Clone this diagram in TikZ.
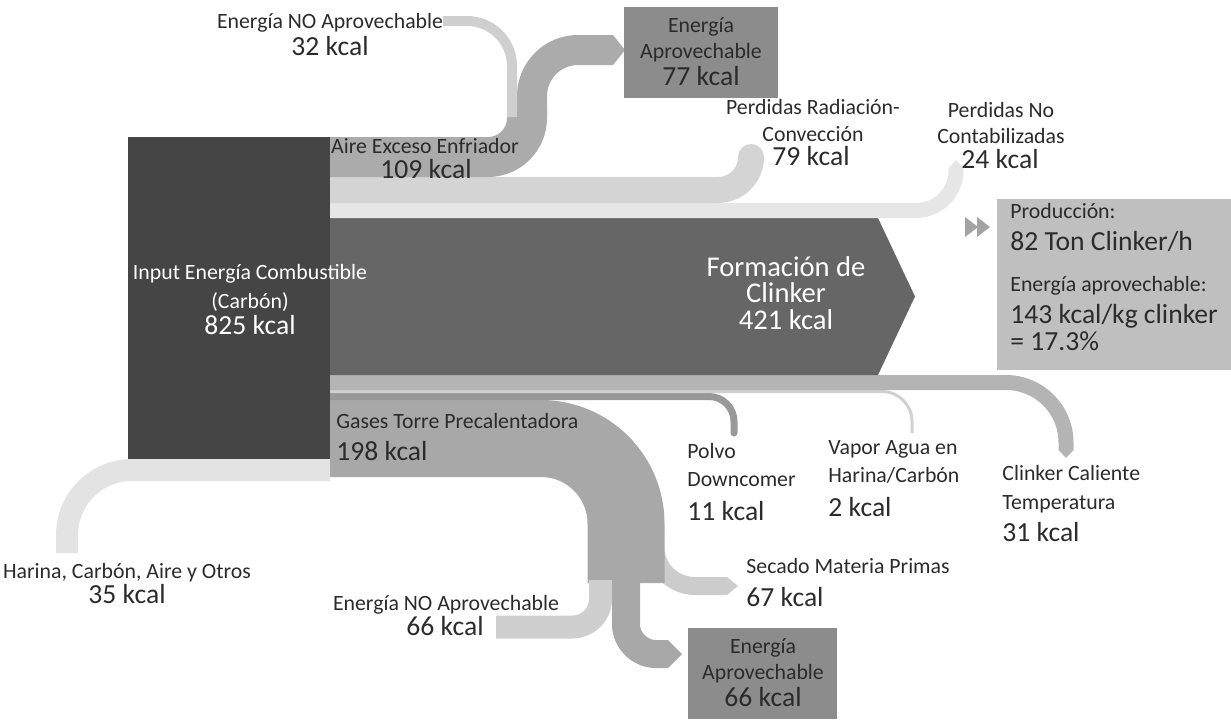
\documentclass[tikz,border=0pt]{standalone}
\usepackage{fontspec}
\setmainfont{Carlito}
\usetikzlibrary{positioning}
\definecolor{txt}{HTML}{2B2B2B}
\definecolor{inbox}{HTML}{454545}
\definecolor{form}{HTML}{666666}
\definecolor{aire}{HTML}{ABABAB}
\definecolor{noaprov}{HTML}{CFCFCF}
\definecolor{aprov}{HTML}{8C8C8C}
\definecolor{radconv}{HTML}{D4D4D4}
\definecolor{nocont}{HTML}{E6E6E6}
\definecolor{prod}{HTML}{BFBFBF}
\definecolor{caliente}{HTML}{B4B4B4}
\definecolor{vapor}{HTML}{D0D0D0}
\definecolor{polvo}{HTML}{999999}
\definecolor{gases}{HTML}{A8A8A8}
\definecolor{secado}{HTML}{CCCCCC}
\definecolor{harina}{HTML}{E3E3E3}
\definecolor{ffw}{HTML}{A3A3A3}
\begin{document}
\begin{tikzpicture}[x=0.5pt,y=-0.5pt,
  lbl/.style={inner sep=0pt, anchor=mid, yshift=-0.5pt, text=txt, font=\fontsize{10.9}{13}\selectfont},
  val/.style={lbl, yshift=-1pt, font=\fontsize{13.8}{16}\selectfont},
  big/.style={lbl, yshift=-1.5pt, text=white, font=\fontsize{14.3}{17}\selectfont},
  box/.style={fill=aprov, inner sep=0pt, minimum width=#1, minimum height=45.5pt},
  band/.style={line cap=butt, line join=round}]
\useasboundingbox (0,0) rectangle (1231,719);
% bands, back to front
\draw[band, harina, line width=11pt, rounded corners=32.5pt] (330,470) -- (67,470) -- (67,553);
\draw[band, secado, line width=9pt, rounded corners=20pt] (655,540) -- (655,586) -- (727,586);
\fill[secado] (727,577) -- (738,586) -- (727,595) -- cycle;
\draw[band, gases, line width=38.5pt, rounded corners=42.5pt] (330,438.5) -- (626,438.5) -- (626,583);
\draw[band, noaprov, line width=11.5pt, rounded corners=14pt] (600.5,580) -- (600.5,627) -- (496,627);
\draw[band, gases, line width=14pt, rounded corners=15pt] (626,580) -- (626,654) -- (668,654);
\fill[gases] (668,640) -- (682,654) -- (668,668) -- cycle;
\draw[band, polvo, line width=3.5pt, rounded corners=12.5pt, line cap=round] (320,396.5) -- (734,396.5) -- (734,433);
\draw[band, vapor, line width=1.5pt, rounded corners=15pt] (330,391.5) -- (912,391.5) -- (912,433);
\draw[band, caliente, line width=7.5pt, rounded corners=30pt] (330,382.5) -- (1066,382.5) -- (1066,450);
\fill[caliente] (1058.5,450) -- (1073.5,450) -- (1066,458) -- cycle;
\fill[form] (330,218) -- (878,218) -- (915,296.5) -- (878,375) -- (330,375) -- cycle;
\draw[band, nocont, line width=7.5pt, rounded corners=20pt] (330,210.5) -- (956,210.5) -- (956,168);
\fill[nocont] (948.5,168) -- (963.5,168) -- (956,160) -- cycle;
\draw[band, radconv, line width=13pt, rounded corners=16.5pt] (330,190) -- (751,190) -- (751,159);
\fill[radconv] (738,159) -- (764,159) -- (751,146) -- cycle;
\draw[band, aire, line width=20pt, rounded corners=19.5pt] (330,157) -- (527,157) -- (527,110);
\draw[band, aire, line width=15pt, rounded corners=23pt] (532,115) -- (532,50) -- (613,50);
\fill[aire] (613,35) -- (625,50) -- (613,65) -- cycle;
\draw[band, noaprov, line width=5pt, rounded corners=22.5pt] (512,117) -- (512,21) -- (443,21);
% boxes
\node[fill=inbox, inner sep=0pt, minimum width=101pt, minimum height=161pt] (input) at (229,298) {};
\node[box=77pt] (ap77) at (701,52.5) {};
\node[box=74.5pt] (ap66) at (762.5,673.5) {};
\node[fill=prod, inner sep=0pt, minimum width=117pt, minimum height=85.5pt] (prod) at (1114,284.5) {};
\fill[ffw] (965,217) -- (978,227) -- (965,237) -- cycle (977,217) -- (990,227) -- (977,237) -- cycle;
% labels
\node[lbl] (na1) at (330,23) {Energía NO Aprovechable};
\node[val] (na2) at (330,48) {32 kcal};
\node[lbl] (ap77a) at (701,27) {Energía};
\node[lbl] (ap77b) at (701,53) {Aprovechable};
\node[val] (ap77c) at (701,78) {77 kcal};
\node[lbl] (ai1) at (425,148) {Aire Exceso Enfriador};
\node[val] (ai2) at (426,171) {109 kcal};
\node[lbl] (rc1) at (813,109) {Perdidas Radiación-};
\node[lbl] (rc2) at (813,136) {Convección};
\node[val] (rc3) at (811,158) {79 kcal};
\node[lbl] (nc1) at (1001,112) {Perdidas No};
\node[lbl] (nc2) at (1001,138) {Contabilizadas};
\node[val] (nc3) at (1000,161) {24 kcal};
\node[lbl, text=white] (in1) at (250,274) {Input Energía Combustible};
\node[lbl, text=white] (in2) at (250,303) {(Carbón)};
\node[val, text=white] (in3) at (250,327) {825 kcal};
\node[big] (fc1) at (786,268) {Formación de};
\node[big] (fc2) at (786,294) {Clinker};
\node[big] (fc3) at (786,321) {421 kcal};
\node[lbl, anchor=mid west] (pr1) at (1010,213) {Producción:};
\node[val, anchor=mid west] (pr2) at (1010,243) {82 Ton Clinker/h};
\node[lbl, anchor=mid west] (pr3) at (1010,286) {Energía aprovechable:};
\node[val, anchor=mid west] (pr4) at (1010,316) {143 kcal/kg clinker};
\node[val, anchor=mid west] (pr5) at (1010,343) {= 17.3\%};
\node[lbl, anchor=mid west] (gt1) at (336,423) {Gases Torre Precalentadora};
\node[val, anchor=mid west] (gt2) at (336,453) {198 kcal};
\node[lbl, anchor=mid west] (pd1) at (687,453) {Polvo};
\node[lbl, anchor=mid west] (pd2) at (687,481) {Downcomer};
\node[val, anchor=mid west] (pd3) at (687,513) {11 kcal};
\node[lbl, anchor=mid west] (va1) at (828,449) {Vapor Agua en};
\node[lbl, anchor=mid west] (va2) at (828,477) {Harina/Carbón};
\node[val, anchor=mid west] (va3) at (828,509) {2 kcal};
\node[lbl, anchor=mid west] (cc1) at (1002,475) {Clinker Caliente};
\node[lbl, anchor=mid west] (cc2) at (1002,504) {Temperatura};
\node[val, anchor=mid west] (cc3) at (1002,534) {31 kcal};
\node[lbl, anchor=mid west] (sm1) at (746,568) {Secado Materia Primas};
\node[val, anchor=mid west] (sm2) at (746,599) {67 kcal};
\node[lbl] (hc1) at (127,573) {Harina, Carbón, Aire y Otros};
\node[val] (hc2) at (127,596) {35 kcal};
\node[lbl] (nb1) at (446,605) {Energía NO Aprovechable};
\node[val] (nb2) at (445,628) {66 kcal};
\node[lbl] (ap66a) at (763,648) {Energía};
\node[lbl] (ap66b) at (763,674) {Aprovechable};
\node[val] (ap66c) at (763,699) {66 kcal};
\end{tikzpicture}
\end{document}
